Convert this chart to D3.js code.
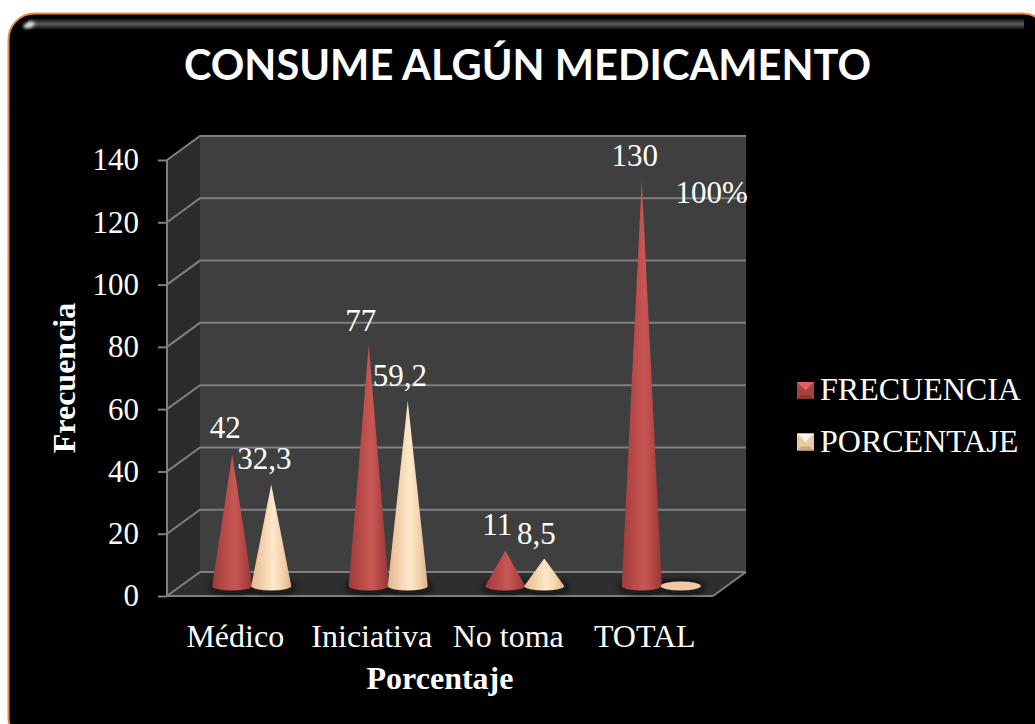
<!DOCTYPE html>
<html>
<head>
<meta charset="utf-8">
<script src="https://d3js.org/d3.v7.min.js"></script>
<style>
  html, body { margin: 0; padding: 0; background: #fff; }
  svg { display: block; }
</style>
</head>
<body>
<svg id="chart"></svg>
<script>
const categories = ['Médico', 'Iniciativa', 'No toma', 'TOTAL'];
const seriesNames = ['FRECUENCIA', 'PORCENTAJE'];
const frecuencia = [42, 77, 11, 130];
const porcentaje = [32.3, 59.2, 8.5, 0];
const frecuenciaLabels = ['42', '77', '11', '130'];
const porcentajeLabels = ['32,3', '59,2', '8,5', '100%'];
const yTicks = [0, 20, 40, 60, 80, 100, 120, 140];

const width = 1035;
const height = 724;
const serif = '"Liberation Serif", serif';

// plot box: front edge of the floor and the depth offset of the back wall
const plot = { left: 167, right: 713, top: 160, bottom: 596 };
const depth = { x: 33, y: -24 };

const svg = d3.select('#chart')
  .attr('width', width)
  .attr('height', height)
  .attr('viewBox', `0 0 ${width} ${height}`);

const defs = svg.append('defs');

function hGradient(id, stops) {
  const grad = defs.append('linearGradient').attr('id', id);
  stops.forEach(s => grad.append('stop').attr('offset', s[0]).attr('stop-color', s[1]));
}

hGradient('cone-red', [[0, '#9e3c3a'], [0.3, '#b84a48'], [0.58, '#c95754'], [0.82, '#ae4442'], [1, '#963735']]);
hGradient('cone-cream', [[0, '#e3b890'], [0.3, '#f3d2ac'], [0.55, '#fee8cc'], [0.8, '#f2d1aa'], [1, '#dcb28a']]);

const gloss = defs.append('linearGradient').attr('id', 'gloss').attr('x2', 0).attr('y2', 1);
gloss.append('stop').attr('offset', 0).attr('stop-color', '#000');
gloss.append('stop').attr('offset', 0.5).attr('stop-color', '#5c5c5c');
gloss.append('stop').attr('offset', 1).attr('stop-color', '#000');

const blur = defs.append('filter').attr('id', 'soft')
  .attr('x', '-30%').attr('y', '-100%').attr('width', '160%').attr('height', '300%');
blur.append('feGaussianBlur').attr('stdDeviation', 3.5);

const blurSmall = defs.append('filter').attr('id', 'soft-small')
  .attr('x', '-50%').attr('y', '-100%').attr('width', '200%').attr('height', '300%');
blurSmall.append('feGaussianBlur').attr('stdDeviation', 1.5);

// Frame
svg.append('rect')
  .attr('x', 8.5).attr('y', 13.5)
  .attr('width', 1040).attr('height', 730)
  .attr('rx', 26)
  .attr('fill', '#000')
  .attr('stroke', '#e98a3e')
  .attr('stroke-width', 2);

svg.append('rect')
  .attr('x', 28).attr('y', 18)
  .attr('width', 996).attr('height', 12)
  .attr('fill', 'url(#gloss)');

svg.append('ellipse')
  .attr('cx', 29).attr('cy', 25)
  .attr('rx', 6).attr('ry', 3)
  .attr('transform', 'rotate(-20 29 25)')
  .attr('fill', '#ddd')
  .attr('filter', 'url(#soft-small)');

// Title
svg.append('text')
  .attr('x', 527.5).attr('y', 80)
  .attr('text-anchor', 'middle')
  .attr('font-family', 'Lato, sans-serif')
  .attr('font-weight', 700)
  .attr('font-size', 41.6)
  .attr('fill', '#fff')
  .text('CONSUME ALGÚN MEDICAMENTO');

// Scales
const x = d3.scaleBand().domain(categories).range([plot.left, plot.right]);
const y = d3.scaleLinear().domain([0, 140]).range([plot.bottom, plot.top]);

const backL = plot.left + depth.x;
const backR = plot.right + depth.x;
const backY = v => y(v) + depth.y;

// Walls and floor
const walls = svg.append('g');
walls.append('polygon')
  .attr('points', [[backL, backY(0)], [backR, backY(0)], [backR, backY(140)], [backL, backY(140)]].join(' '))
  .attr('fill', '#3f3f3f');
walls.append('polygon')
  .attr('points', [[plot.left, y(0)], [backL, backY(0)], [backL, backY(140)], [plot.left, y(140)]].join(' '))
  .attr('fill', '#2b2b2b');
walls.append('polygon')
  .attr('points', [[plot.left, y(0)], [plot.right, y(0)], [backR, backY(0)], [backL, backY(0)]].join(' '))
  .attr('fill', '#2e2e2e');

// Gridlines follow the left wall and the back wall
const gridColor = '#808080';
const grid = svg.append('g')
  .attr('fill', 'none')
  .attr('stroke', gridColor)
  .attr('stroke-width', 2);
grid.selectAll('polyline')
  .data(yTicks)
  .join('polyline')
  .attr('points', d => [[plot.left, y(d)], [backL, backY(d)], [backR, backY(d)]].join(' '));
grid.append('line')
  .attr('x1', plot.left).attr('x2', plot.left)
  .attr('y1', y(0)).attr('y2', y(140));
grid.append('line')
  .attr('x1', plot.left).attr('x2', plot.right)
  .attr('y1', y(0)).attr('y2', y(0));
grid.append('line')
  .attr('x1', plot.right).attr('x2', backR)
  .attr('y1', y(0)).attr('y2', backY(0));

// Y axis
const yAxis = svg.append('g')
  .attr('transform', `translate(${plot.left},0)`)
  .call(d3.axisLeft(y).tickValues(yTicks).tickSize(9).tickPadding(19));
yAxis.select('.domain').remove();
yAxis.selectAll('line').attr('stroke', gridColor).attr('stroke-width', 2);
yAxis.selectAll('text')
  .attr('font-family', serif)
  .attr('font-size', 31)
  .attr('fill', '#fff');

// X axis
const xAxis = svg.append('g')
  .attr('transform', `translate(0,${plot.bottom})`)
  .call(d3.axisBottom(x).tickSize(0).tickPadding(28));
xAxis.select('.domain').remove();
xAxis.selectAll('text')
  .attr('font-family', serif)
  .attr('font-size', 32)
  .attr('fill', '#fff');

// Cones stand in the middle of the floor depth
const coneOffsetX = depth.x / 2;
const apexOffsetY = -11;
const baseOffsetY = -10;
const coneGap = 19.5;
const baseRx = 20;
const baseRy = 4.5;

const series = [
  { name: seriesNames[0], values: frecuencia, labels: frecuenciaLabels, side: -1, fill: 'url(#cone-red)', flat: '#b84a48', top: '#dc6462', mid: '#a84240', low: '#8a3331' },
  { name: seriesNames[1], values: porcentaje, labels: porcentajeLabels, side: 1, fill: 'url(#cone-cream)', flat: '#eec9a2', top: '#fff6e8', mid: '#eccaa6', low: '#d0a67f' },
];

const coneX = (cat, s) => x(cat) + x.bandwidth() / 2 + coneOffsetX + s.side * coneGap;
const coneBase = y(0) + baseOffsetY;

const shadows = svg.append('g').attr('filter', 'url(#soft)');
series.forEach(s => {
  shadows.selectAll(null)
    .data(categories)
    .join('ellipse')
    .attr('cx', d => coneX(d, s) + 1)
    .attr('cy', coneBase + 1)
    .attr('rx', baseRx + 3)
    .attr('ry', baseRy + 2)
    .attr('fill', '#0a0a0a');
});

series.forEach(s => {
  const g = svg.append('g').attr('class', 'series');
  categories.forEach((cat, i) => {
    const v = s.values[i];
    const cx = coneX(cat, s);
    if (v === 0) {
      g.append('ellipse')
        .attr('cx', cx).attr('cy', coneBase)
        .attr('rx', baseRx).attr('ry', baseRy)
        .attr('fill', s.flat);
      return;
    }
    g.append('path')
      .attr('d', `M${cx - baseRx},${coneBase}L${cx},${y(v) + apexOffsetY}L${cx + baseRx},${coneBase}A${baseRx},${baseRy} 0 0 1 ${cx - baseRx},${coneBase}Z`)
      .attr('fill', s.fill);
  });
});

// Data labels sit where the original chart left them, roughly above each tip
const labelNudge = [
  [[-7, -16], [-8, -14], [-8, -16], [-7, -14]],
  [[-7, -15], [-8, -15], [-8, -15], [31, -8]],
];
series.forEach((s, si) => {
  svg.append('g')
    .selectAll('text')
    .data(categories)
    .join('text')
    .attr('x', (d, i) => coneX(d, s) + labelNudge[si][i][0])
    .attr('y', (d, i) => y(si === 1 && i === 3 ? 120 : s.values[i]) + apexOffsetY + labelNudge[si][i][1])
    .attr('text-anchor', 'middle')
    .attr('font-family', serif)
    .attr('font-size', 31)
    .attr('fill', '#fff')
    .text((d, i) => s.labels[i]);
});

// Axis titles
svg.append('text')
  .attr('x', 440).attr('y', 689)
  .attr('text-anchor', 'middle')
  .attr('font-family', serif)
  .attr('font-weight', 700)
  .attr('font-size', 32)
  .attr('fill', '#fff')
  .text('Porcentaje');

svg.append('text')
  .attr('transform', 'translate(75,378) rotate(-90)')
  .attr('text-anchor', 'middle')
  .attr('font-family', serif)
  .attr('font-weight', 700)
  .attr('font-size', 32)
  .attr('fill', '#fff')
  .text('Frecuencia');

// Legend
const legendY = d3.scalePoint().domain(seriesNames).range([390, 441.5]);
const legend = svg.append('g')
  .selectAll('g')
  .data(series)
  .join('g')
  .attr('transform', d => `translate(797,${legendY(d.name)})`);

legend.append('rect')
  .attr('x', 0).attr('y', -8)
  .attr('width', 17).attr('height', 17)
  .attr('fill', d => d.mid);
legend.append('path')
  .attr('d', 'M0,9L17,9L13,5L4,5Z')
  .attr('fill', d => d.low);
legend.append('path')
  .attr('d', 'M0,-8L17,-8L8.5,0.5Z')
  .attr('fill', d => d.top);
legend.append('text')
  .attr('x', 23).attr('y', 10)
  .attr('font-family', serif)
  .attr('font-size', 32)
  .attr('fill', '#fff')
  .text(d => d.name);
</script>
</body>
</html>
